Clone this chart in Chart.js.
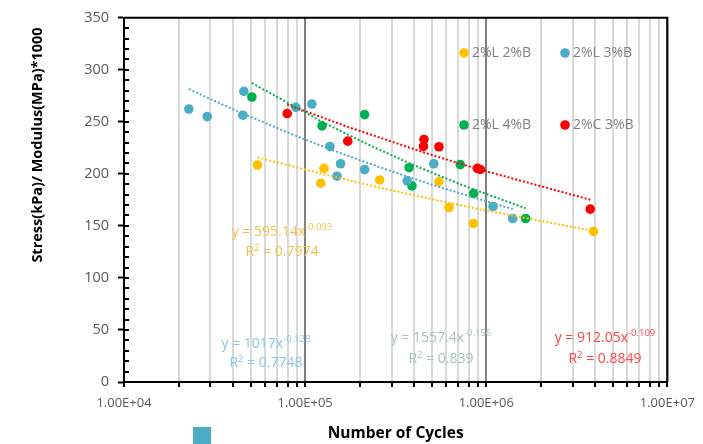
<!DOCTYPE html>
<html><head><meta charset="utf-8">
<script src="https://cdn.jsdelivr.net/npm/chart.js@4"></script>
<style>html,body{margin:0;padding:0;background:#fff}canvas{display:block}</style>
</head><body>
<canvas id="c" width="703" height="444"></canvas>
<script>
// ---- data ----
const seriesNames = ['2%L 2%B', '2%L 3%B', '2%L 4%B', '2%C 3%B'];
const l2b2Cycles = [54600, 127000, 122000, 258000, 548000, 623000, 849000, 3910000];
const l2b2Stress = [208.5, 205.3, 191.0, 194.1, 192.5, 167.6, 152.3, 144.7];
const l2b3Cycles = [22800, 28800, 45900, 45300, 88900, 109000, 137000, 157000, 150000, 213000, 366000, 513000, 1090000, 1400000];
const l2b3Stress = [262.3, 255.0, 279.2, 256.3, 263.9, 267.1, 226.3, 209.7, 197.7, 204.0, 193.2, 209.7, 168.6, 157.1];
const l2b4Cycles = [50800, 124000, 213000, 375000, 389000, 719000, 851000, 1650000];
const l2b4Stress = [273.8, 246.1, 256.9, 205.9, 188.4, 208.8, 181.0, 157.1];
const c2b3Cycles = [79600, 172000, 453000, 450000, 548000, 893000, 927000, 3750000];
const c2b3Stress = [257.9, 231.4, 233.0, 226.3, 226.0, 205.2, 204.2, 166.1];
// power-law trendlines shown on the chart: y = a * x^b
const fitCoef = [595.14, 1017, 1557.4, 912.05];
const fitExp = [-0.093, -0.128, -0.156, -0.109];
const fitCoefText = ['595.14', '1017', '1557.4', '912.05'];
const fitExpText = ['-0.093', '-0.128', '-0.156', '-0.109'];
const fitR2Text = ['0.7974', '0.7748', '0.839', '0.8849'];
const xDecades = [1e4, 1e5, 1e6, 1e7];
const xTickLabels = ['1.00E+04', '1.00E+05', '1.00E+06', '1.00E+07'];
const yTickValues = [0, 50, 100, 150, 200, 250, 300, 350];
const xTitle = 'Number of Cycles';
const yTitle = 'Stress(kPa)/ Modulus(MPa)*1000';

// ---- styling ----
const markerColors = ['#FFC000', '#4BACC6', '#00B050', '#FF0000'];
const eqColors = ['#F4C146', '#8CC7D8', '#A6C3B4', '#FF4444'];
const FONT = '"Open Sans", "Noto Sans", sans-serif';

const cyclesList = [l2b2Cycles, l2b3Cycles, l2b4Cycles, c2b3Cycles];
const stressList = [l2b2Stress, l2b3Stress, l2b4Stress, c2b3Stress];

const datasets = [];
seriesNames.forEach((name, i) => {
  datasets.push({
    label: name,
    type: 'scatter',
    data: cyclesList[i].map((x, k) => ({x: x, y: stressList[i][k]})),
    backgroundColor: markerColors[i],
    borderColor: markerColors[i],
    borderWidth: 0,
    pointRadius: 4.8,
    pointHoverRadius: 4.8,
    order: 2
  });
});
seriesNames.forEach((name, i) => {
  const xs = cyclesList[i].slice().sort((a, b) => a - b);
  datasets.push({
    label: name + ' trend',
    type: 'line',
    data: xs.map(x => ({x: x, y: fitCoef[i] * Math.pow(x, fitExp[i])})),
    borderColor: markerColors[i],
    borderWidth: 2,
    borderDash: [2, 2],
    pointRadius: 0,
    fill: false,
    tension: 0,
    order: 1
  });
});

function drawEq(ctx, i, cx, cy1, cy2) {
  ctx.save();
  ctx.fillStyle = eqColors[i];
  ctx.textBaseline = 'middle';
  ctx.textAlign = 'left';
  const mainFont = '14px ' + FONT, supFont = '9.5px ' + FONT;
  const main = 'y = ' + fitCoefText[i] + 'x';
  ctx.font = mainFont; const w1 = ctx.measureText(main).width;
  ctx.font = supFont; const w2 = ctx.measureText(fitExpText[i]).width;
  let x0 = cx - (w1 + w2) / 2;
  ctx.font = mainFont; ctx.fillText(main, x0, cy1);
  ctx.font = supFont; ctx.fillText(fitExpText[i], x0 + w1, cy1 - 5);
  const r1 = 'R', r2 = '2', r3 = ' = ' + fitR2Text[i];
  ctx.font = mainFont; const a = ctx.measureText(r1).width, c = ctx.measureText(r3).width;
  ctx.font = supFont; const b = ctx.measureText(r2).width;
  x0 = cx - (a + b + c) / 2;
  ctx.font = mainFont; ctx.fillText(r1, x0, cy2);
  ctx.font = supFont; ctx.fillText(r2, x0 + a, cy2 - 4);
  ctx.font = mainFont; ctx.fillText(r3, x0 + a + b, cy2);
  ctx.restore();
}

const decorPlugin = {
  id: 'decor',
  afterDraw(chart) {
    const ctx = chart.ctx, ca = chart.chartArea, ys = chart.scales.y;
    ctx.save();
    // frame (top and right)
    ctx.strokeStyle = '#000'; ctx.lineWidth = 2;
    ctx.beginPath();
    ctx.moveTo(ca.left, ca.top); ctx.lineTo(ca.right, ca.top); ctx.lineTo(ca.right, ca.bottom);
    ctx.stroke();
    // inner minor ticks on y axis
    ctx.lineWidth = 2;
    for (let v = 10; v < 350; v += 10) {
      const py = Math.round(ys.getPixelForValue(v));
      ctx.beginPath(); ctx.moveTo(ca.left, py); ctx.lineTo(ca.left + 5, py); ctx.stroke();
    }
    // y title
    ctx.fillStyle = '#000';
    ctx.font = 'bold 14.5px ' + FONT;
    ctx.textAlign = 'center'; ctx.textBaseline = 'middle';
    ctx.translate(38, 145); ctx.rotate(-Math.PI / 2);
    ctx.fillText(yTitle, 0, 0);
    ctx.restore();
    // legend
    ctx.save();
    const legPos = [[464, 53], [565, 53], [464, 125], [565, 125]];
    ctx.font = '14px ' + FONT; ctx.textBaseline = 'middle'; ctx.textAlign = 'left';
    seriesNames.forEach((n, i) => {
      const [lx, ly] = legPos[i];
      ctx.fillStyle = markerColors[i];
      ctx.beginPath(); ctx.arc(lx, ly, 4.8, 0, Math.PI * 2); ctx.fill();
      ctx.fillStyle = '#808080';
      ctx.fillText(n, lx + 8, ly);
    });
    ctx.restore();
    // equations
    drawEq(ctx, 0, 282, 232, 252);
    drawEq(ctx, 1, 266, 344, 363);
    drawEq(ctx, 2, 441, 338, 359);
    drawEq(ctx, 3, 605, 338, 359);
    // stray legend swatch at bottom
    ctx.save();
    ctx.fillStyle = '#4BACC6';
    ctx.fillRect(193, 427, 18, 17);
    ctx.restore();
  }
};

new Chart(document.getElementById('c'), {
  type: 'scatter',
  data: {datasets: datasets},
  options: {
    responsive: false,
    animation: false,
    devicePixelRatio: 1,
    layout: {padding: {top: 16, right: 35, left: 0, bottom: 0}},
    plugins: {legend: {display: false}, tooltip: {enabled: false}},
    scales: {
      x: {
        type: 'logarithmic',
        min: 1e4, max: 1e7,
        afterFit: s => { s.height = 62; },
        afterBuildTicks: s => {
          const t = [];
          for (let d = 0; d < 3; d++) for (let m = 1; m < 10; m++) t.push({value: m * xDecades[d]});
          t.push({value: xDecades[3]});
          s.ticks = t;
        },
        ticks: {
          autoSkip: false, maxRotation: 0, padding: 8,
          color: '#595959', font: {family: FONT, size: 13},
          callback: v => { const k = xDecades.indexOf(v); return k >= 0 ? xTickLabels[k] : ''; }
        },
        grid: {
          color: c => (xDecades.indexOf(c.tick.value) > 0 ? '#7F7F7F' : '#D9D9D9'),
          lineWidth: 2, tickLength: 5, tickColor: '#000', tickWidth: 2
        },
        border: {color: '#000', width: 2},
        title: {display: true, text: xTitle, color: '#000', font: {family: FONT, size: 15.5, weight: 'bold'}, padding: {top: 0, bottom: 1}}
      },
      y: {
        min: 0, max: 350,
        afterFit: s => { s.width = 124; },
        afterBuildTicks: s => { s.ticks = yTickValues.map(v => ({value: v})); },
        ticks: {padding: 9, color: '#595959', font: {family: FONT, size: 14.5}},
        grid: {drawOnChartArea: false, tickLength: 6, tickColor: '#000', tickWidth: 2},
        border: {color: '#000', width: 2}
      }
    }
  },
  plugins: [decorPlugin]
});
</script>
</body></html>
